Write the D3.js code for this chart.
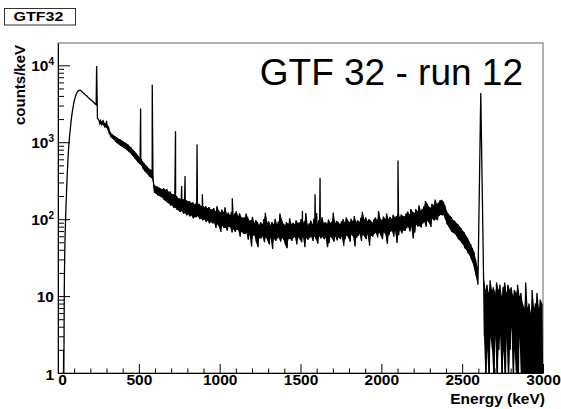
<!DOCTYPE html>
<html><head><meta charset="utf-8">
<script src="https://cdn.jsdelivr.net/npm/d3@7/dist/d3.min.js"></script>
<style>body{margin:0;background:#fff}</style>
</head><body>
<svg id="c" width="561" height="409"></svg>
<script>
// ---- data (counts/keV) ----
const lowEnergy = [30,34,35,36,37,38,39,40,42,44,47,50,54,58,62,66,70,75,80,85,90,95,100,105,110,115,120,125,130,135,140,150,160,170,180,190,200,210,220,230,236,244];
const lowCounts = [0,1,2,1,2,5,12,20,40,65,100,160,260,420,620,850,1100,1400,1800,2200,2600,3000,3400,3750,4050,4300,4500,4620,4700,4750,4720,4500,4300,4100,3950,3750,3600,3450,3300,3150,3080,2050];

// continuum band, 10 keV groups starting at 250 keV: max / min of the bins in each group
const bandStartKeV = 250;
const bandHi = [
 1950,1900,1870,1800,1760,1700,1560,1330,1280,1230,
 1190,1150,1110,1090,1050,1020,990,960,930,880,
 850,800,760,720,670,640,610,560,530,500,
 480,450,440,420,280,270,265,258,250,245,
 252,240,244,226,228,212,210,198,200,185,
 186,176,182,170,176,170,172,162,166,156,
 160,154,158,148,152,142,148,138,144,134,
 134,140,125,147,130,122,133,123,143,116,
 122,112,125,111,119,127,108,119,106,104,
 105,118,106,95,97,107,89,97,92,84,
 91,86,100,121,89,94,84,92,86,101,
 86,93,118,98,87,84,92,86,103,85,
 90,85,97,88,91,100,86,94,120,84,
 88,96,86,102,90,87,97,89,106,88,
 92,87,99,89,93,122,88,95,91,86,
 93,100,90,105,95,91,101,93,110,92,
 97,92,104,125,98,106,93,100,96,90,
 99,105,96,128,101,97,108,100,118,99,
 107,101,114,105,110,119,106,115,110,108,
 118,126,114,135,124,120,134,127,151,128,
 136,147,172,158,145,141,158,152,180,156,
 165,176,178,168,150,128,118,111,106,97,
 95,89,86,80,76,70,67,61,57,51,
 47,42,37,30,24];
const bandLo = [
 1760,1720,1680,1620,1560,1500,1300,1170,1120,1080,
 1010,970,940,900,880,850,820,790,760,730,
 690,650,610,580,540,520,500,450,420,400,
 380,355,345,330,220,215,205,200,195,190,
 178,172,165,160,150,152,140,142,132,130,
 124,128,118,120,112,116,108,112,102,106,
 106,110,100,102,96,100,92,96,88,92,
 88,90,77,86,80,68,83,77,78,71,
 80,78,67,74,68,73,72,59,69,65,
 64,67,54,63,44,61,62,50,43,57,
 56,60,50,58,53,47,58,41,56,52,
 56,58,51,57,54,46,42,55,56,52,
 57,59,47,58,55,50,59,43,57,54,
 57,60,52,60,55,48,60,56,59,55,
 58,43,49,59,56,51,60,53,58,55,
 60,45,55,62,58,51,63,59,44,57,
 61,64,52,63,59,55,64,45,62,59,
 64,67,58,67,62,55,68,63,48,62,
 68,71,59,71,49,62,73,65,72,70,
 76,80,69,81,56,67,85,80,82,78,
 88,93,80,95,89,79,101,96,100,97,
 110,114,112,113,99,86,80,74,68,66,
 64,60,55,53,49,47,42,40,36,34,
 30,27,22,18,14];

// tail above the 2614 keV line, 10 keV groups starting at 2630 keV
const tailStartKeV = 2630;
const tailHi = [17,12,14,11,16,12,13,11,15,12,14,10,13,15,11,14,12,13,10,12,11,14,10,11,8,7,15,7,8,6,12,7,8,11,7,9,8];
const tailLo = [3,0,2,0,3,2,0,3,0,2,3,0,2,0,3,0,2,4,0,2,0,0,3,0,0,0,1,0,0,1,0,0,0,1,0,0,0];

// gamma lines
const peakEnergy = [239,278,300,511,583,727,765,786,860,893,1078,1512,1590,1600,1621,2103,2615];
const peakCounts = [9800,1950,1900,2750,5600,1390,270,364,935,211,187,128,211,120,346,580,4370];

const xTicks = [0,500,1000,1500,2000,2500,3000];
const xMinorTicks = [100,200,300,400,600,700,800,900,1100,1200,1300,1400,1600,1700,1800,1900,2100,2200,2300,2400,2600,2700,2800,2900];
const yTicks = [1,10,100,1000,10000];
const yTickBase = ["1","10","10","10","10"];
const yTickExp = ["","","2","3","4"];
const yMinorTicks = [2,3,4,5,6,7,8,9,20,30,40,50,60,70,80,90,200,300,400,500,600,700,800,900,2000,3000,4000,5000,6000,7000,8000,9000];

// ---- drawing ----
const FONT = "'Liberation Sans', Arial, Helvetica, sans-serif";
const L = 58, R = 543, T = 43, B = 373;
const svg = d3.select("#c");
const x = d3.scaleLinear().domain([0, 3000]).range([L, R]);
const y = d3.scaleLog().domain([1, 19500]).range([B, T]);

svg.append("rect").attr("x", 0).attr("y", 0).attr("width", 561).attr("height", 409).attr("fill", "#fff");

// title box
svg.append("rect").attr("x", 4.5).attr("y", 8.5).attr("width", 71).attr("height", 16.5)
  .attr("fill", "#fff").attr("stroke", "#333").attr("stroke-width", 1);
svg.append("text").attr("x", 13.5).attr("y", 20.7).text("GTF32")
  .attr("font-family", FONT).attr("font-weight", "bold").attr("font-size", 13)
  .attr("textLength", 50).attr("lengthAdjust", "spacingAndGlyphs");

// frame
svg.append("rect").attr("x", L).attr("y", T).attr("width", R - L).attr("height", B - T)
  .attr("fill", "none").attr("stroke", "#666").attr("stroke-width", 1);

svg.append("clipPath").attr("id", "plotclip").append("rect")
  .attr("x", L).attr("y", T).attr("width", R - L).attr("height", B - T);
const plot = svg.append("g").attr("clip-path", "url(#plotclip)");

const yv = v => v > 0 ? y(v) : B + 10;

// solid core of the noisy band (between group minimum and maximum)
const bandPts = bandHi.map((h, i) => [bandStartKeV + i * 10 + 5, h, bandLo[i]]);
const tailPts = tailHi.map((h, i) => [tailStartKeV + i * 10 + 5, h, tailLo[i]]);
const area = d3.area().x(d => x(d[0])).y1(d => yv(d[1])).y0(d => yv(d[2]));
[bandPts, tailPts].forEach(p => plot.append("path").datum(p).attr("d", area).attr("fill", "#000"));

// spectrum line (zig-zag through max/min of each group plus gamma lines)
const pts = [];
lowEnergy.forEach((e, i) => pts.push([e, lowCounts[i]]));
bandHi.forEach((h, i) => {
  const e = bandStartKeV + i * 10;
  pts.push([e + 2.5, h]);
  pts.push([e + 7.5, bandLo[i]]);
});
tailHi.forEach((h, i) => {
  const e = tailStartKeV + i * 10;
  pts.push([e + 2.5, h]);
  pts.push([e + 7.5, tailLo[i]]);
});
peakEnergy.forEach((e, i) => pts.push([e, peakCounts[i]]));
pts.sort((a, b) => a[0] - b[0]);

const line = d3.line().x(d => x(d[0])).y(d => yv(d[1]));
plot.append("path").datum(pts).attr("d", line)
  .attr("fill", "none").attr("stroke", "#000").attr("stroke-width", 1.3)
  .attr("stroke-linejoin", "miter");

// x axis
const gx = svg.append("g").attr("transform", `translate(0,${B})`)
  .call(d3.axisBottom(x).tickValues(xTicks).tickSizeInner(-9).tickSizeOuter(0).tickPadding(1).tickFormat(d3.format("d")));
gx.select(".domain").attr("stroke", "#000");
gx.selectAll(".tick line").attr("stroke", "#000");
gx.selectAll("text").attr("font-family", FONT).attr("font-weight", "bold").attr("font-size", 15.5).attr("fill", "#000")
  .attr("dx", d => d === 0 ? 4 : 0);
const gxm = svg.append("g").attr("transform", `translate(0,${B})`)
  .call(d3.axisBottom(x).tickValues(xMinorTicks).tickSizeInner(-4.5).tickSizeOuter(0).tickFormat(""));
gxm.select(".domain").remove();
gxm.selectAll(".tick line").attr("stroke", "#000");

// y axis
const gy = svg.append("g").attr("transform", `translate(${L},0)`)
  .call(d3.axisLeft(y).tickValues(yTicks).tickSizeInner(-12).tickSizeOuter(0).tickPadding(4).tickFormat(() => ""));
gy.select(".domain").attr("stroke", "#000");
gy.selectAll(".tick line").attr("stroke", "#000");
gy.selectAll(".tick text").each(function(d, i) {
  const t = d3.select(this).text("")
    .attr("font-family", FONT).attr("font-weight", "bold").attr("font-size", 15.5).attr("fill", "#000")
    .attr("dy", i === 0 ? "0.45em" : "0.35em");
  t.append("tspan").text(yTickBase[i]);
  if (yTickExp[i]) t.append("tspan").attr("font-size", 10).attr("dy", -6).text(yTickExp[i]);
});
const gym = svg.append("g").attr("transform", `translate(${L},0)`)
  .call(d3.axisLeft(y).tickValues(yMinorTicks).tickSizeInner(-6).tickSizeOuter(0).tickFormat(() => ""));
gym.select(".domain").remove();
gym.selectAll(".tick line").attr("stroke", "#000");

// axis titles
svg.append("text").attr("x", 545).attr("y", 403.5).attr("text-anchor", "end")
  .attr("font-family", FONT).attr("font-weight", "bold").attr("font-size", 15.5).text("Energy (keV)");
svg.append("text").attr("transform", "translate(25,45) rotate(-90)").attr("text-anchor", "end")
  .attr("font-family", FONT).attr("font-weight", "bold").attr("font-size", 15).text("counts/keV");

// plot label
svg.append("text").attr("x", 523).attr("y", 85).attr("text-anchor", "end")
  .attr("font-family", FONT).attr("font-size", 37).text("GTF 32 - run 12");
</script>
</body></html>
